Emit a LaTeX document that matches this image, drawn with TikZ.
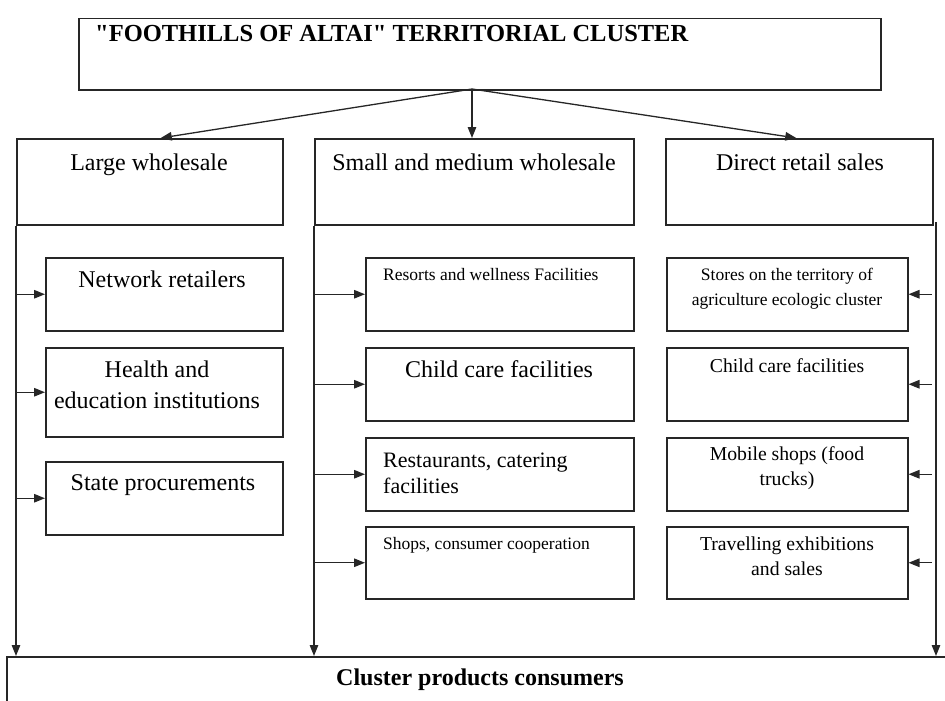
\documentclass[tikz,border=0pt]{standalone}
\usepackage{fontspec}
\setmainfont{Liberation Serif}
\newfontfamily\titlefont{Liberation Serif}[Ligatures=TeXOff]
\usetikzlibrary{arrows.meta,calc}
\begin{document}
\begin{tikzpicture}[x=1pt,y=-1pt,
  box/.style={draw=black!85, line width=1.5pt, inner sep=0pt, anchor=north west},
  txt/.style={inner sep=0pt, anchor=base, font=\fontsize{24}{31}\selectfont},
  arr/.style={draw=black!85, line width=1.3pt, -{Triangle[length=11pt,width=8.5pt]}},
  fsmall/.style={font=\fontsize{17.5}{25}\selectfont},
  fmed/.style={font=\fontsize{19.7}{25}\selectfont},
]
\path[use as bounding box] (0,0) rectangle (945,701);
\clip (0,0) rectangle (945,701);

% boxes
\node[box, minimum width=802pt, minimum height=71pt] (top) at (78,18) {};
\node[box, minimum width=266pt, minimum height=86pt] (lw) at (16,138) {};
\node[box, minimum width=319pt, minimum height=86pt] (sm) at (314,138) {};
\node[box, minimum width=267pt, minimum height=86pt] (dr) at (665,138) {};

\node[box, minimum width=237pt, minimum height=73pt] (n1) at (45,257) {};
\node[box, minimum width=237pt, minimum height=89pt] (n2) at (45,347) {};
\node[box, minimum width=237pt, minimum height=73pt] (n3) at (45,461) {};

\node[box, minimum width=268pt, minimum height=73pt] (m1) at (365,257) {};
\node[box, minimum width=268pt, minimum height=73pt] (m2) at (365,347) {};
\node[box, minimum width=268pt, minimum height=73pt] (m3) at (365,437) {};
\node[box, minimum width=268pt, minimum height=72pt] (m4) at (365,526) {};

\node[box, minimum width=241pt, minimum height=73pt] (r1) at (666,257) {};
\node[box, minimum width=241pt, minimum height=73pt] (r2) at (666,347) {};
\node[box, minimum width=241pt, minimum height=73pt] (r3) at (666,437) {};
\node[box, minimum width=241pt, minimum height=72pt] (r4) at (666,526) {};

\node[box, minimum width=1000pt, minimum height=100pt] (cons) at (6,656) {};

% texts
\node[txt, anchor=base west, font=\titlefont\fontsize{24.5}{28}\bfseries\selectfont] (ttop) at (95,42) {"FOOTHILLS OF ALTAI" TERRITORIAL CLUSTER};
\node[txt] (tlw) at (149,170) {Large wholesale};
\node[txt] (tsm) at (474,170) {Small and medium wholesale};
\node[txt] (tdr) at (800,170) {Direct retail sales};

\node[txt] (tn1) at (162,287) {Network retailers};
\node[txt, align=center] (tn2) at (157,408) {Health and\\education institutions};
\node[txt] (tn3) at (163,490) {State procurements};

\node[txt, fsmall, anchor=base west] (tm1) at (383,280) {Resorts and wellness Facilities};
\node[txt] (tm2) at (499,377) {Child care facilities};
\node[txt, anchor=base west, align=left, font=\fontsize{22}{26}\selectfont] (tm3) at (383,493) {Restaurants, catering\\facilities};
\node[txt, fsmall, anchor=base west] (tm4) at (383,549) {Shops, consumer cooperation};

\node[txt, fsmall, align=center] (tr1) at (787,305) {Stores on the territory of\\agriculture ecologic cluster};
\node[txt, fmed] (tr2) at (787,372) {Child care facilities};
\node[txt, fmed, align=center] (tr3) at (787,485) {Mobile shops (food\\trucks)};
\node[txt, fmed, align=center] (tr4) at (787,575) {Travelling exhibitions\\and sales};

\node[txt, font=\fontsize{24}{28}\bfseries\selectfont] (tcons) at (480,685) {Cluster products consumers};

% top arrows
\coordinate (src) at (472,89);
\draw[arr] (src) -- ($(lw.north)+(11,0)$);
\draw[arr] (src) -- (src |- sm.north);
\draw[arr] (src) -- ($(dr.north)+(-3,0)$);

% vertical trunks
\coordinate (rv) at (936,222);
\draw[arr] (lw.south west) -- (lw.south west |- cons.north);
\draw[arr] (sm.south west) -- (sm.south west |- cons.north);
\draw[arr] (rv) -- (rv |- cons.north);

% branches
\foreach \b in {n1,n2,n3} \draw[arr] (lw.south west |- \b.west) -- (\b.west);
\foreach \b in {m1,m2,m3,m4} \draw[arr] (sm.south west |- \b.west) -- (\b.west);
\foreach \b in {r1,r2,r3,r4} \draw[arr] ($(rv |- \b.east)+(-4,0)$) -- (\b.east);
\end{tikzpicture}
\end{document}
